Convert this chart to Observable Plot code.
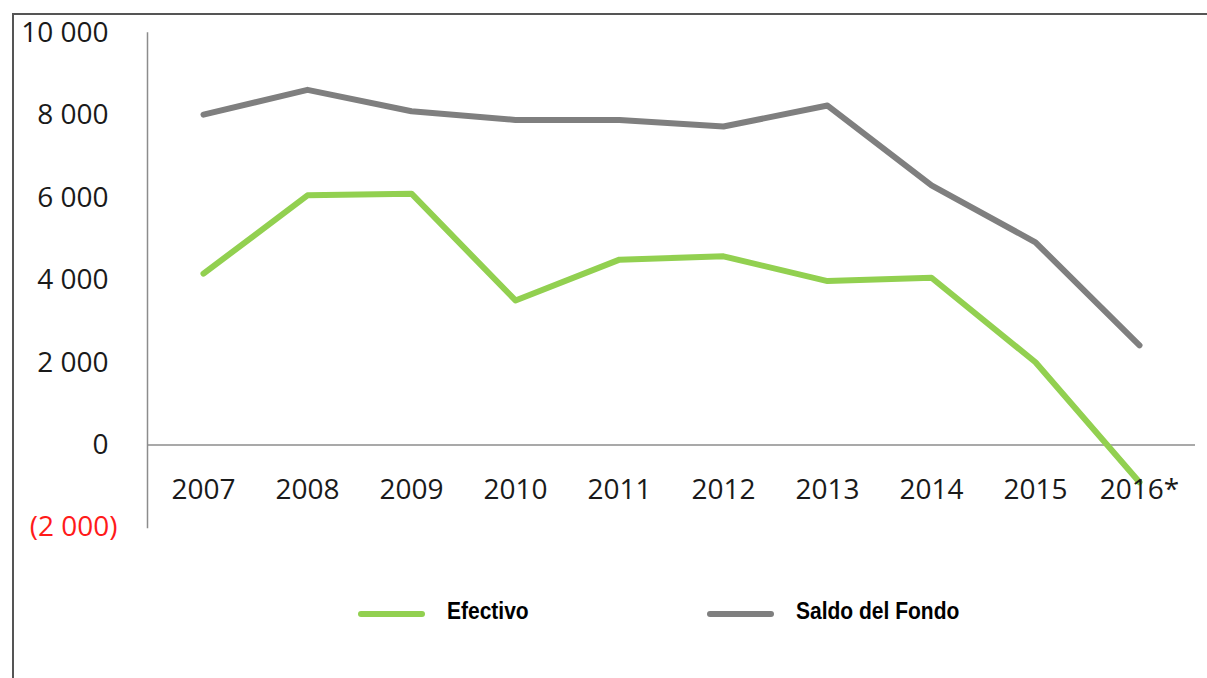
<!DOCTYPE html>
<html>
<head>
<meta charset="utf-8">
<script src="https://cdn.jsdelivr.net/npm/d3@7"></script>
<script src="https://cdn.jsdelivr.net/npm/@observablehq/plot@0.6"></script>
<style>
  html, body { margin: 0; padding: 0; background: #fff; }
  #wrap { position: relative; width: 1207px; height: 678px; overflow: hidden; }
  #box { position: absolute; left: 12px; top: 13px; width: 1300px; height: 800px;
         border-left: 2px solid #555; border-top: 2px solid #555; box-sizing: border-box; }
  #chart { position: absolute; left: 0; top: 0; }
  #legend { position: absolute; left: 0; top: 596px; width: 1207px; height: 36px;
            font-family: "Liberation Sans", Arial, sans-serif; font-weight: bold; font-size: 21px; color: #000; }
  .item { position: absolute; top: 0; display: flex; align-items: center; height: 30px; }
  .sw { width: 67px; height: 6px; border-radius: 3px; margin-right: 22px; margin-top: 6px; }
  .lbl { display: inline-block; transform: scaleY(1.12); }
</style>
</head>
<body>
<div id="wrap">
  <div id="box"></div>
  <div id="chart"></div>
  <div id="legend"></div>
</div>
<script>
// Data
const years = ["2007","2008","2009","2010","2011","2012","2013","2014","2015","2016"];
const yearLabels = ["2007","2008","2009","2010","2011","2012","2013","2014","2015","2016*"];
const efectivo = [4160, 6060, 6100, 3510, 4500, 4580, 3980, 4060, 2010, -900];
const saldo = [8020, 8620, 8100, 7890, 7890, 7730, 8240, 6300, 4920, 2420];
const seriesNames = ["Efectivo", "Saldo del Fondo"];
const seriesColors = ["#92d050", "#7f7f7f"];
const yTicks = [10000, 8000, 6000, 4000, 2000, 0, -2000];
const yTickLabels = ["10 000", "8 000", "6 000", "4 000", "2 000", "0", "(2 000)"];

const rows = [];
years.forEach((y, i) => {
  rows.push({year: y, value: saldo[i], series: seriesNames[1]});
});
years.forEach((y, i) => {
  rows.push({year: y, value: efectivo[i], series: seriesNames[0]});
});
const xLab = years.map((y, i) => ({year: y, label: yearLabels[i]}));
const yLab = yTicks.map((v, i) => ({v, label: yTickLabels[i]}));

const chart = Plot.plot({
  width: 1207,
  height: 560,
  marginLeft: 147,
  marginRight: 12,
  marginTop: 32.5,
  marginBottom: 33,
  style: {fontFamily: "'Open Sans', sans-serif", background: "transparent"},
  x: {type: "point", domain: years, padding: 0.5, axis: null},
  y: {domain: [-2000, 10000], axis: null},
  color: {domain: seriesNames, range: seriesColors},
  marks: [
    Plot.frame({anchor: "left", stroke: "#8c8c8c", strokeWidth: 1.5}),
    Plot.ruleY([0], {stroke: "#8c8c8c", strokeWidth: 1.5}),
    Plot.line(rows, {x: "year", y: "value", z: "series", stroke: "series",
      strokeWidth: 6, strokeLinejoin: "round", strokeLinecap: "round"}),
    Plot.text(xLab, {x: "year", y: () => 0, text: "label", dy: 45,
      fontSize: 28, fill: "#1a1a1a"}),
    Plot.text(yLab.filter(d => d.v >= 0), {y: "v", text: "label", frameAnchor: "left",
      textAnchor: "end", dx: -39, fontSize: 28, fill: "#1a1a1a"}),
    Plot.text(yLab.filter(d => d.v < 0), {y: "v", text: "label", frameAnchor: "left",
      textAnchor: "end", dx: -30, fontSize: 28, fill: "#ff1a1a"})
  ]
});
document.getElementById("chart").appendChild(chart);

// Legend
const legend = document.getElementById("legend");
const lefts = [358, 707];
seriesNames.forEach((name, i) => {
  const item = document.createElement("div");
  item.className = "item";
  item.style.left = lefts[i] + "px";
  const sw = document.createElement("span");
  sw.className = "sw";
  sw.style.background = seriesColors[i];
  const lbl = document.createElement("span");
  lbl.className = "lbl";
  lbl.textContent = name;
  item.appendChild(sw);
  item.appendChild(lbl);
  legend.appendChild(item);
});
</script>
</body>
</html>
